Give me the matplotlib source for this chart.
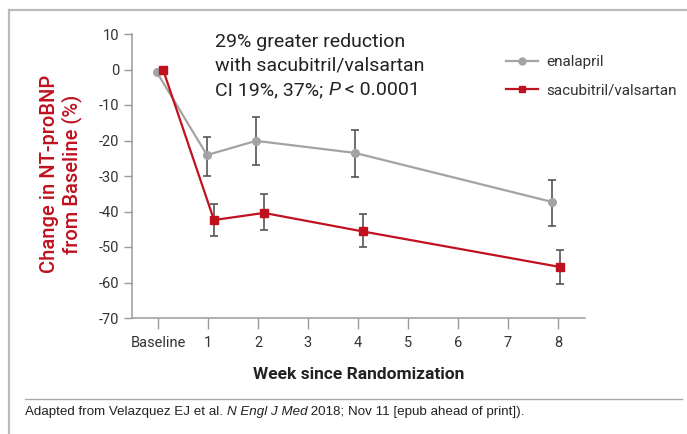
import numpy as np
import matplotlib
matplotlib.use('Agg')
import matplotlib.pyplot as plt
from matplotlib.lines import Line2D

plt.rcParams['font.family'] = ['Roboto', 'DejaVu Sans']
plt.rcParams['axes.unicode_minus'] = False

# data
ena_x = [-0.03, 0.98, 1.96, 3.94, 7.88]
ena_y = [-0.6, -24.1, -20.1, -23.5, -37.3]
ena_lo = [-29.9, -26.8, -30.3, -44.1]
ena_hi = [-18.9, -13.5, -17.1, -31.0]

sac_x = [0.10, 1.12, 2.12, 4.09, 8.03]
sac_y = [0.0, -42.4, -40.4, -45.6, -55.6]
sac_lo = [-46.8, -45.1, -50.0, -60.3]
sac_hi = [-38.0, -35.2, -40.8, -50.9]

week_ticks = [0, 1, 2, 3, 4, 5, 6, 7, 8]
week_labels = ['Baseline', '1', '2', '3', '4', '5', '6', '7', '8']
y_ticks = [10, 0, -10, -20, -30, -40, -50, -60, -70]

RED = '#C0111F'
GRAY = '#A3A3A3'
ERR = '#555555'
TXT = '#333333'

W, H = 687, 434
fig = plt.figure(figsize=(W/100, H/100), dpi=100)
ax = fig.add_axes([132/W, 1-318/H, (585-132)/W, (318-34)/H])


def errs(y, lo, hi):
    y = np.array(y[1:])
    return [y - np.array(lo), np.array(hi) - y]


ax.errorbar(ena_x[1:], ena_y[1:], yerr=errs(ena_y, ena_lo, ena_hi), fmt='none',
            ecolor=ERR, elinewidth=1.2, capsize=3, capthick=1.2, zorder=2)
ax.errorbar(sac_x[1:], sac_y[1:], yerr=errs(sac_y, sac_lo, sac_hi), fmt='none',
            ecolor=ERR, elinewidth=1.2, capsize=3, capthick=1.2, zorder=2)

ax.plot(ena_x, ena_y, color=GRAY, lw=1.6, marker='o', ms=5.5, mec=GRAY, mfc=GRAY,
        zorder=3, label='enalapril')
ax.plot(sac_x, sac_y, color=RED, lw=1.6, marker='s', ms=5.5, mec=RED, mfc=RED,
        zorder=4, label='sacubitril/valsartan')

ax.set_xlim(-0.52, 8.54)
ax.set_ylim(-70, 10)
ax.set_xticks(week_ticks)
ax.set_xticklabels(week_labels)
ax.set_yticks(y_ticks)

for s in ['top', 'right']:
    ax.spines[s].set_visible(False)
for s in ['left', 'bottom']:
    ax.spines[s].set_color('#9A9A9A')
    ax.spines[s].set_linewidth(1.1)
ax.tick_params(axis='x', length=8, width=1, color='#9A9A9A', labelsize=10.5,
               labelcolor=TXT, pad=5)
ax.tick_params(axis='y', length=6, width=1, color='#9A9A9A', labelsize=10.5,
               labelcolor=TXT, pad=3)

ax.set_xlabel('Week since Randomization', fontsize=12.5, fontweight='bold',
              color='#222222', labelpad=12)
fig.text(61/W, 1-174/H, 'Change in NT-proBNP\nfrom Baseline (%)', rotation=90,
         color=RED, fontsize=14.5, ha='center', va='center', linespacing=1.1,
         fontweight='medium')

leg = ax.legend(loc='upper left', bbox_to_anchor=(506/W, 1-55/H),
                bbox_transform=fig.transFigure, frameon=False, fontsize=11,
                handlelength=2.1, handletextpad=0.55, labelspacing=0.95,
                borderpad=0, borderaxespad=0, labelcolor=TXT)
for h in leg.legend_handles:
    h.set_markersize(5)

# annotation and footnote, pieces placed one after another
fig.canvas.draw()
renderer = fig.canvas.get_renderer()


def write_pieces(x, y, pieces, **kw):
    for txt, style in pieces:
        t = fig.text(x, y, txt, style=style, **kw)
        bb = t.get_window_extent(renderer)
        x = x + bb.width/W


ann = dict(fontsize=14, color='#222222', va='baseline')
fig.text(215/W, 1-47/H, '29% greater reduction', **ann)
fig.text(215/W, 1-71/H, 'with sacubitril/valsartan', **ann)
write_pieces(215/W, 1-95/H, [('CI 19%, 37%; ', 'normal'), ('P', 'italic'),
                              (' < 0.0001', 'normal')], **ann)

foot = dict(fontsize=9.6, color='#222222', va='baseline', family='Liberation Sans')
write_pieces(25/W, 1-415/H, [('Adapted from Velazquez EJ et al. ', 'normal'),
                             ('N Engl J Med', 'italic'),
                             (' 2018; Nov 11 [epub ahead of print]).', 'normal')],
             **foot)

# frame and separator
fig.add_artist(Line2D([9/W, 9/W], [0, 1-10/H], color='#BBBBBB', lw=1.6))
fig.add_artist(Line2D([9/W, 1], [1-10/H, 1-10/H], color='#BBBBBB', lw=1.6))
fig.add_artist(Line2D([25/W, 682/W], [1-399/H, 1-399/H], color='#AAAAAA', lw=1))

fig.savefig('out.png', dpi=100)
